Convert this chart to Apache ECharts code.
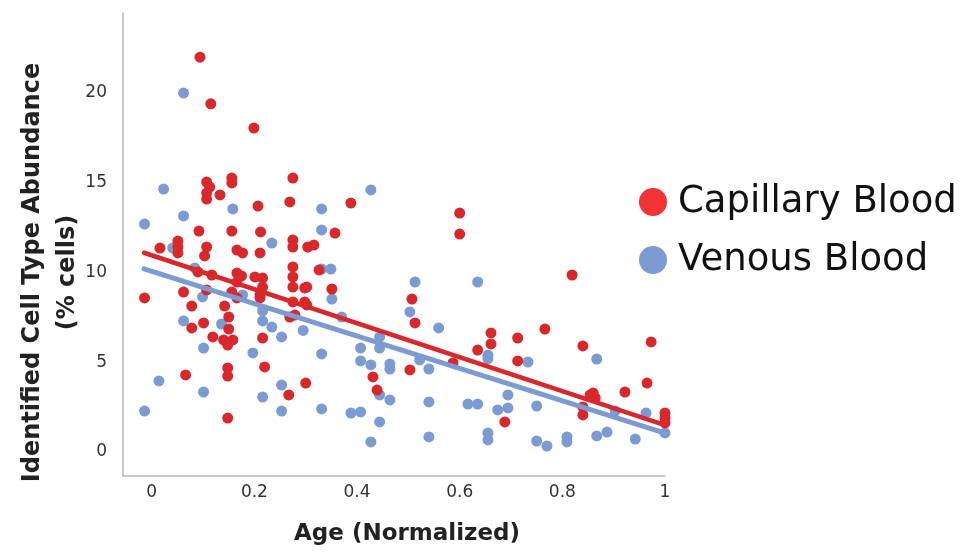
<!DOCTYPE html>
<html>
<head>
<meta charset="utf-8">
<script src="https://cdn.jsdelivr.net/npm/echarts@6/dist/echarts.min.js"></script>
<style>
    html, body { margin: 0; padding: 0; background: #fff; }
    #chart { width: 975px; height: 552px; }
</style>
</head>
<body>
<div id="chart"></div>
<script>
// 散点数据 [age, abundance]
const capillaryPoints = [
    [0.094, 22.0], [0.115, 19.4], [0.199, 18.05], [0.107, 15.04], [0.113, 14.76],
    [0.107, 14.43], [0.107, 14.09], [0.133, 14.32], [0.156, 15.26], [0.156, 14.99],
    [0.275, 15.26], [0.269, 13.93], [0.207, 13.70], [0.092, 12.31], [0.156, 12.31],
    [0.212, 12.26], [0.051, 11.75], [0.051, 11.42], [0.051, 11.09], [0.016, 11.36],
    [0.107, 11.42], [0.103, 10.92], [0.166, 11.25], [0.177, 11.09], [0.211, 11.09],
    [0.275, 11.81], [0.275, 11.42], [0.304, 11.42], [0.316, 11.53], [0.275, 10.31],
    [0.275, 9.75], [0.275, 9.19], [0.298, 9.14], [0.090, 10.03], [0.117, 9.86],
    [0.166, 9.97], [0.175, 9.81], [0.166, 9.47], [0.201, 9.75], [0.216, 9.69],
    [0.216, 9.19], [0.107, 9.03], [0.062, 8.91], [0.156, 8.91], [-0.014, 8.58],
    [0.211, 8.75], [0.078, 8.13], [0.101, 7.19], [0.078, 6.91], [0.142, 8.13],
    [0.150, 7.52], [0.150, 6.85], [0.119, 6.41], [0.140, 6.24], [0.158, 6.24],
    [0.148, 5.96], [0.166, 8.58], [0.211, 8.58], [0.275, 8.36], [0.298, 8.36],
    [0.269, 7.52], [0.279, 7.63], [0.216, 6.35], [0.220, 4.74], [0.066, 4.29],
    [0.148, 4.68], [0.148, 4.23], [0.267, 3.18], [0.300, 3.84], [0.148, 1.89],
    [0.388, 13.87], [0.357, 12.20], [0.600, 13.31], [0.600, 12.14], [0.326, 10.14],
    [0.302, 9.19], [0.351, 9.08], [0.302, 8.19], [0.507, 8.52], [0.513, 7.19],
    [0.431, 4.18], [0.439, 3.45], [0.503, 4.57], [0.587, 4.96], [0.635, 5.68],
    [0.661, 6.63], [0.661, 6.02], [0.713, 6.35], [0.766, 6.85], [0.713, 5.07],
    [0.819, 9.86], [0.840, 5.91], [0.973, 6.13], [0.965, 3.84], [0.922, 3.34],
    [0.854, 3.18], [0.864, 3.01], [0.860, 3.29], [0.840, 2.51], [0.840, 2.06],
    [0.688, 1.67], [1.000, 2.17], [1.000, 1.89], [1.000, 1.62]
]
const venousPoints = [
    [0.062, 20.0], [0.023, 14.65], [0.158, 13.54], [0.062, 13.15], [-0.014, 12.70],
    [0.234, 11.64], [0.041, 11.36], [0.084, 10.25], [0.099, 8.64], [0.177, 8.75],
    [0.062, 7.30], [0.136, 7.13], [0.216, 7.30], [0.216, 7.86], [0.234, 6.96],
    [0.253, 6.41], [0.295, 6.77], [0.101, 5.79], [0.197, 5.52], [0.014, 3.96],
    [0.101, 3.34], [0.216, 3.06], [0.253, 3.73], [0.253, 2.28], [-0.014, 2.28],
    [0.427, 14.60], [0.331, 13.54], [0.331, 12.37], [0.349, 10.19], [0.331, 10.19],
    [0.513, 9.47], [0.635, 9.47], [0.351, 8.52], [0.503, 7.80], [0.370, 7.52],
    [0.559, 6.91], [0.444, 6.41], [0.444, 5.79], [0.407, 5.79], [0.407, 5.07],
    [0.427, 4.85], [0.331, 5.46], [0.464, 4.90], [0.464, 4.62], [0.522, 5.13],
    [0.540, 4.62], [0.655, 5.40], [0.655, 5.20], [0.444, 3.18], [0.464, 2.90],
    [0.331, 2.40], [0.388, 2.17], [0.407, 2.23], [0.444, 1.67], [0.427, 0.56],
    [0.540, 2.79], [0.540, 0.84], [0.616, 2.67], [0.635, 2.67], [0.655, 1.06],
    [0.655, 0.67], [0.733, 5.01], [0.867, 5.18], [0.694, 3.18], [0.694, 2.45],
    [0.674, 2.34], [0.750, 2.56], [0.750, 0.61], [0.770, 0.33], [0.809, 0.84],
    [0.809, 0.56], [0.867, 0.89], [0.887, 1.11], [0.942, 0.72], [0.963, 2.17],
    [1.000, 1.06], [0.903, 2.28]
]
// 回归线端点
const capillaryFit = [[-0.015, 11.1], [1.0, 1.5]]
const venousFit = [[-0.015, 10.2], [1.0, 1.05]]

const xTicks = [0, 0.2, 0.4, 0.6, 0.8, 1]
const yTicks = [0, 5, 10, 15, 20]
const seriesNames = ['Capillary Blood', 'Venous Blood']

const COLOR = {
    red: '#d8282b',
    redLegend: '#f23333',
    blue: '#7b9bd2',
    axis: '#b8b8b8',
    text: '#222'
}

const chart = echarts.init(document.getElementById('chart'))

const option = {
    animation: false,
    textStyle: { fontFamily: 'DejaVu Sans' },
    grid: { left: 123, right: 310, top: 13, bottom: 76 },
    legend: {
        left: 634,
        top: 178,
        orient: 'vertical',
        icon: 'circle',
        itemWidth: 28,
        itemHeight: 28,
        itemGap: 20,
        textStyle: { fontSize: 37, lineHeight: 38, color: '#111', padding: [0, 0, 0, 6] },
        data: [
            { name: seriesNames[0], itemStyle: { color: COLOR.redLegend } },
            { name: seriesNames[1], itemStyle: { color: COLOR.blue } }
        ]
    },
    xAxis: {
        type: 'value',
        min: -0.056,
        max: 1.0,
        name: 'Age (Normalized)',
        nameLocation: 'middle',
        nameGap: 47,
        nameMoveOverlap: false,
        nameTextStyle: { fontSize: 23, fontWeight: 'bold', color: COLOR.text, padding: [0, 0, 0, 26] },
        axisLine: { show: true, onZero: false, lineStyle: { color: COLOR.axis, width: 1.5 } },
        axisTick: { show: false },
        splitLine: { show: false },
        axisLabel: { customValues: xTicks, fontSize: 17, color: '#333', margin: 8 }
    },
    yAxis: {
        type: 'value',
        min: -1.34,
        max: 24.46,
        name: 'Identified Cell Type Abundance\n(% cells)',
        nameLocation: 'middle',
        nameGap: 38,
        nameMoveOverlap: false,
        nameTextStyle: { fontSize: 24, fontWeight: 'bold', color: COLOR.text, lineHeight: 35, padding: [0, 56, 0, 0] },
        axisLine: { show: true, onZero: false, lineStyle: { color: COLOR.axis, width: 1.5 } },
        axisTick: { show: false },
        splitLine: { show: false },
        axisLabel: { customValues: yTicks, fontSize: 17, color: '#333', margin: 16 }
    },
    series: [
        {
            name: seriesNames[1],
            type: 'scatter',
            symbolSize: 11,
            itemStyle: { color: COLOR.blue, opacity: 1 },
            data: venousPoints,
            z: 2
        },
        {
            name: seriesNames[0],
            type: 'scatter',
            symbolSize: 11,
            itemStyle: { color: COLOR.red, opacity: 1 },
            data: capillaryPoints,
            z: 3
        },
        {
            name: seriesNames[1],
            type: 'line',
            showSymbol: false,
            symbol: 'none',
            lineStyle: { color: COLOR.blue, width: 5, cap: 'round' },
            data: venousFit,
            z: 4
        },
        {
            name: seriesNames[0],
            type: 'line',
            showSymbol: false,
            symbol: 'none',
            lineStyle: { color: COLOR.red, width: 4.5, cap: 'round' },
            data: capillaryFit,
            z: 5
        }
    ]
}

chart.setOption(option)
</script>
</body>
</html>
